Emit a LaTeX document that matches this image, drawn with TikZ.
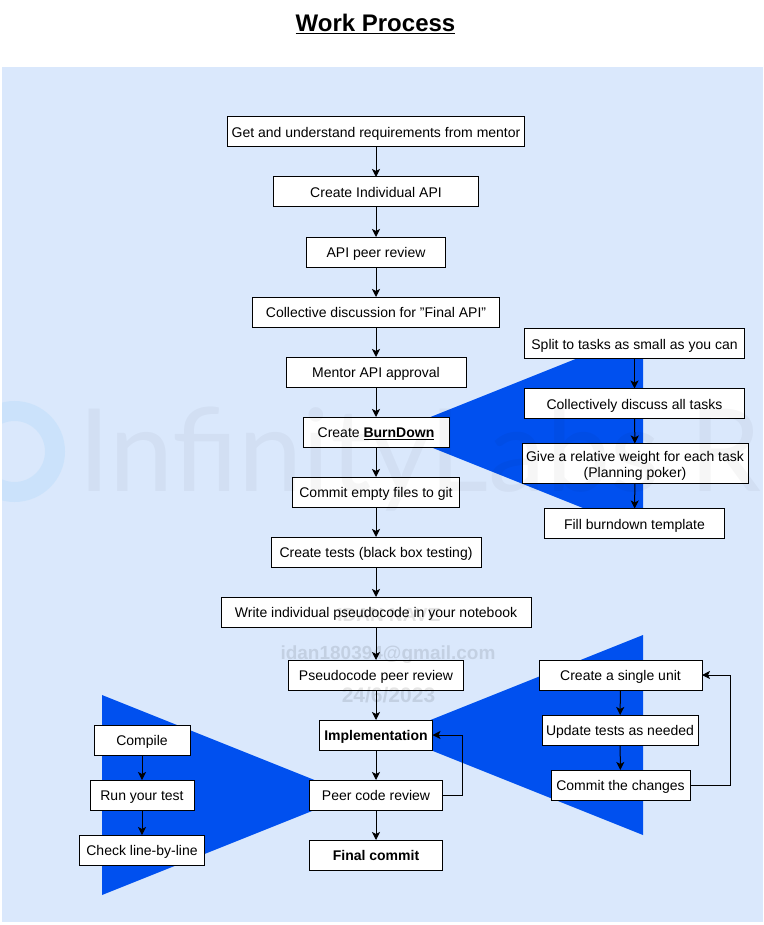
\documentclass[tikz,border=0pt]{standalone}
\usepackage{fontspec}
\setmainfont{Liberation Sans}
\newfontfamily\markfont{Lato}
\usepackage{xcolor}
\usetikzlibrary{positioning,arrows.meta}
\definecolor{panelblue}{HTML}{DAE8FC}
\definecolor{wedgeblue}{HTML}{0050EF}
\definecolor{ringblue}{HTML}{88CCF8}
\tikzset{
    stepbox/.style={draw,fill=white,line width=1pt,inner sep=0pt,outer sep=0pt,minimum height=30pt,align=center,text height=11pt,text depth=0pt,font=\fontsize{14}{16}\selectfont},
    flow/.style={draw,line width=1pt,-{Stealth[length=8pt,width=8pt,inset=2pt]}},
    bigmark/.style={inner sep=0pt,anchor=base west,opacity=0.035,font=\markfont\fontsize{115}{115}\selectfont},
    smallmark/.style={inner sep=0pt,text=black,opacity=0.1,font=\bfseries\fontsize{19}{19}\selectfont}
}
\begin{document}
\begin{tikzpicture}[x=1pt,y=-1pt,node distance=30pt]
    \useasboundingbox (0,0) rectangle (763,925);
    \fill[panelblue] (2,67) rectangle (763,922);
    \node[font=\bfseries\fontsize{24}{26}\selectfont] (title) at (375.5,24) {\underline{Work Process}};
    \fill[wedgeblue] (643,332) -- (393,432) -- (643,532) -- cycle;
    \fill[wedgeblue] (643,635) -- (393,735) -- (643,835) -- cycle;
    \fill[wedgeblue] (102,695) -- (352,795) -- (102,895) -- cycle;

    \node[stepbox,minimum width=297pt] (requirements) at (376,132) {Get and understand requirements from mentor};
    \node[stepbox,minimum width=205pt,below=of requirements] (individual) {Create Individual API};
    \node[stepbox,minimum width=139pt,below=of individual] (apireview) {API peer review};
    \node[stepbox,minimum width=247pt,below=of apireview] (discussion) {Collective discussion for "Final API"};
    \node[stepbox,minimum width=180pt,below=of discussion] (approval) {Mentor API approval};
    \node[stepbox,minimum width=146pt,below=of approval] (burndown) {Create \textbf{\underline{BurnDown}}};
    \node[stepbox,minimum width=167pt,below=of burndown] (emptyfiles) {Commit empty files to git};
    \node[stepbox,minimum width=210pt,below=of emptyfiles] (tests) {Create tests (black box testing)};
    \node[stepbox,minimum width=310pt,below=of tests] (pseudocode) {Write individual pseudocode in your notebook};
    \node[stepbox,minimum width=175pt,below=33pt of pseudocode] (pseudoreview) {Pseudocode peer review};
    \node[stepbox,minimum width=113pt,below=of pseudoreview,font=\bfseries\fontsize{14}{16}\selectfont] (implementation) {Implementation};
    \node[stepbox,minimum width=133pt,below=of implementation] (codereview) {Peer code review};
    \node[stepbox,minimum width=133pt,below=of codereview,font=\bfseries\fontsize{14}{16}\selectfont] (finalcommit) {Final commit};

    \node[stepbox,minimum width=220pt] (split) at (634.5,343.5) {Split to tasks as small as you can};
    \node[stepbox,minimum width=220pt] (discuss) at (634.5,403.5) {Collectively discuss all tasks};
    \node[stepbox,minimum width=226pt,minimum height=40pt,text height=27pt] (weight) at (635,463.5) {Give a relative weight for each task\\(Planning poker)};
    \node[stepbox,minimum width=180pt] (template) at (634.5,523.5) {Fill burndown template};

    \node[stepbox,minimum width=163pt] (singleunit) at (620.5,675) {Create a single unit};
    \node[stepbox,minimum width=156pt] (updatetests) at (620,730) {Update tests as needed};
    \node[stepbox,minimum width=139pt] (changes) at (620.5,785) {Commit the changes};

    \node[stepbox,minimum width=96pt] (compile) at (142,740) {Compile};
    \node[stepbox,minimum width=104pt] (runtest) at (142,795) {Run your test};
    \node[stepbox,minimum width=125pt] (linebyline) at (142,850) {Check line-by-line};

    \draw[flow] (requirements) -- (individual);
    \draw[flow] (individual) -- (apireview);
    \draw[flow] (apireview) -- (discussion);
    \draw[flow] (discussion) -- (approval);
    \draw[flow] (approval) -- (burndown);
    \draw[flow] (burndown) -- (emptyfiles);
    \draw[flow] (emptyfiles) -- (tests);
    \draw[flow] (tests) -- (pseudocode);
    \draw[flow] (pseudocode) -- (pseudoreview);
    \draw[flow] (pseudoreview) -- (implementation);
    \draw[flow] (implementation) -- (codereview);
    \draw[flow] (codereview) -- (finalcommit);
    \draw[flow] (split) -- (discuss);
    \draw[flow] (discuss) -- (weight);
    \draw[flow] (weight) -- (template);
    \draw[flow] (singleunit) -- (updatetests);
    \draw[flow] (updatetests) -- (changes);
    \draw[flow] (compile) -- (runtest);
    \draw[flow] (runtest) -- (linebyline);
    \draw[flow] (codereview.east) -- ++(20,0) |- (implementation.east);
    \draw[flow] (changes.east) -- ++(40,0) |- (singleunit.east);

    \begin{scope}
        \clip (2,67) rectangle (763,922);
        \draw[ringblue,opacity=0.18,line width=20pt] (14.5,451.5) circle (40.5);
        \node[bigmark] (infinity) at (78,491) {InfinityLabs R};
    \end{scope}
    \node[smallmark] (markname) at (389,615) {IDAN NAVE};
    \node[smallmark] (markmail) at (388,655) {idan180394@gmail.com};
    \node[smallmark,font=\bfseries\fontsize{21}{21}\selectfont] (markdate) at (388.5,695) {24/6/2023};
\end{tikzpicture}
\end{document}
